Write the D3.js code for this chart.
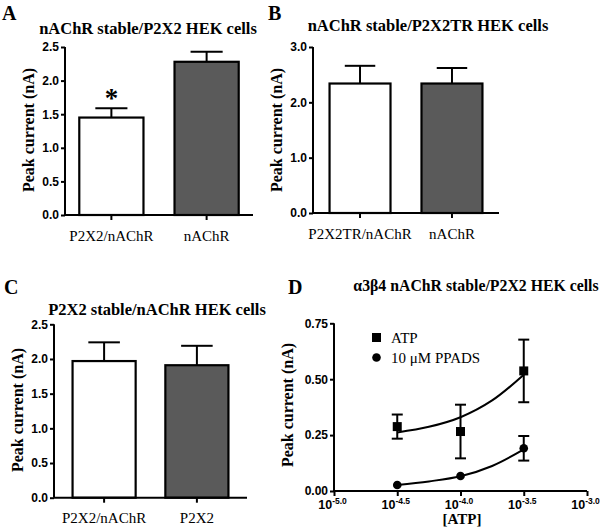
<!DOCTYPE html>
<html><head><meta charset="utf-8">
<script src="https://cdn.jsdelivr.net/npm/d3@7"></script>
<style>body{margin:0;background:#fff}svg{display:block}</style>
</head><body>
<svg id="c" width="600" height="530"></svg>
<script>
// ---- data ----
const catsA = ["P2X2/nAChR", "nAChR"];
const meanA = [1.45, 2.28];
const semA  = [0.14, 0.15];
const ticksA = [0, 0.5, 1.0, 1.5, 2.0, 2.5];

const catsB = ["P2X2TR/nAChR", "nAChR"];
const meanB = [2.34, 2.34];
const semB  = [0.32, 0.28];
const ticksB = [0, 1.0, 2.0, 3.0];

const catsC = ["P2X2/nAChR", "P2X2"];
const meanC = [1.97, 1.91];
const semC  = [0.27, 0.28];
const ticksC = [0, 0.5, 1.0, 1.5, 2.0, 2.5];

const logATP = [-4.5, -4.0, -3.5];
const atpMean = [0.288, 0.266, 0.537];
const atpSem  = [0.054, 0.12, 0.14];
const ppadsMean = [0.027, 0.067, 0.191];
const ppadsSem  = [0, 0, 0.055];
const fitX = [-4.5, -4.25, -4.0, -3.75, -3.5];
const atpFit = [0.262, 0.287, 0.330, 0.405, 0.520];
const ppadsFit = [0.027, 0.043, 0.066, 0.112, 0.186];
const ticksDx = [-5.0, -4.5, -4.0, -3.5, -3.0];
const ticksDy = [0, 0.25, 0.50, 0.75];

const svg = d3.select("#c");
const SERIF = "'Liberation Serif','Times New Roman',serif";
const SANS = "'Liberation Sans',Arial,sans-serif";
const fills = ["#ffffff", "#5a5a5a"];

function letter(t, x, y) {
  svg.append("text").attr("x", x).attr("y", y).text(t)
    .attr("font-family", SERIF).attr("font-weight", "bold").attr("font-size", 20);
}
function title(t, x, y, fs) {
  svg.append("text").attr("x", x).attr("y", y).text(t).attr("text-anchor", "middle")
    .attr("font-family", SERIF).attr("font-weight", "bold").attr("font-size", fs || 16.5);
}
function ylabel(x, y) {
  svg.append("text").attr("transform", `translate(${x},${y}) rotate(-90)`)
    .attr("text-anchor", "middle").text("Peak current (nA)")
    .attr("font-family", SERIF).attr("font-weight", "bold").attr("font-size", 16);
}
function yAxis(g, y, ticks, fmt) {
  const ax = g.append("g").call(d3.axisLeft(y).tickValues(ticks).tickFormat(d3.format(fmt)).tickSize(4).tickPadding(2));
  ax.select(".domain").attr("stroke-width", 2).attr("d", `M0,${y(d3.max(ticks))}V${y(0)}`);
  ax.selectAll(".tick line").attr("stroke-width", 2);
  ax.selectAll(".tick text").attr("font-family", SANS).attr("font-weight", "bold").attr("font-size", 12).attr("fill", "#000");
  return ax;
}

function barPanel(o) {
  const g = svg.append("g");
  const x = d3.scaleBand().domain(o.cats).range([o.x0, o.x1]).paddingInner(o.pi).paddingOuter(o.po);
  const y = d3.scaleLinear().domain([0, d3.max(o.ticks)]).range([o.y0, o.y1]);
  // error bars (upper only)
  o.cats.forEach((c, i) => {
    const cx = x(c) + x.bandwidth() / 2;
    const cw = x.bandwidth() / 4;
    g.append("line").attr("x1", cx).attr("x2", cx).attr("y1", y(o.mean[i])).attr("y2", y(o.mean[i] + o.sem[i])).attr("stroke", "#000").attr("stroke-width", 2);
    g.append("line").attr("x1", cx - cw).attr("x2", cx + cw).attr("y1", y(o.mean[i] + o.sem[i])).attr("y2", y(o.mean[i] + o.sem[i])).attr("stroke", "#000").attr("stroke-width", 2);
  });
  g.selectAll("rect.bar").data(o.cats).join("rect")
    .attr("x", c => x(c)).attr("width", x.bandwidth())
    .attr("y", (c, i) => y(o.mean[i])).attr("height", (c, i) => y(0) - y(o.mean[i]))
    .attr("fill", (c, i) => fills[i]).attr("stroke", "#000").attr("stroke-width", 2.2);
  // x axis
  const xa = g.append("g").attr("transform", `translate(0,${o.y0})`)
    .call(d3.axisBottom(x).tickSize(5).tickPadding(8));
  xa.select(".domain").attr("stroke-width", 2).attr("d", `M${o.x0},0H${o.x1}`);
  xa.selectAll(".tick line").attr("stroke-width", 2);
  xa.selectAll(".tick text").attr("font-family", SERIF).attr("font-size", 15).attr("fill", "#000").attr("dy", "0.85em");
  g.append("g").attr("transform", `translate(${o.x0},0)`).call(gg => yAxis(gg, y, o.ticks, o.fmt));
  return {x, y, g};
}

// Panel A
letter("A", 2, 20);
title("nAChR stable/P2X2 HEK cells", 148, 34);
ylabel(34, 130);
const pA = barPanel({cats: catsA, mean: meanA, sem: semA, ticks: ticksA, fmt: ".1f",
  x0: 65, x1: 253, y0: 215, y1: 47, pi: 0.326, po: 0.15});
svg.append("text").attr("x", pA.x(catsA[0]) + pA.x.bandwidth() / 2).attr("y", pA.y(meanA[0] + semA[0]) - 1)
  .attr("text-anchor", "middle").text("*").attr("font-family", SERIF).attr("font-weight", "bold").attr("font-size", 27);

// Panel B
letter("B", 268, 20);
title("nAChR stable/P2X2TR HEK cells", 428, 31);
ylabel(282, 130);
barPanel({cats: catsB, mean: meanB, sem: semB, ticks: ticksB, fmt: ".1f",
  x0: 313, x1: 499, y0: 213, y1: 47, pi: 0.337, po: 0.18});

// Panel C
letter("C", 4, 294);
title("P2X2 stable/nAChR HEK cells", 157, 315);
ylabel(23, 410);
barPanel({cats: catsC, mean: meanC, sem: semC, ticks: ticksC, fmt: ".1f",
  x0: 54, x1: 247, y0: 497.7, y1: 324.3, pi: 0.32, po: 0.2});

// Panel D
letter("D", 288, 294);
title("\u03b13\u03b24 nAChR stable/P2X2 HEK cells", 476, 291, 15.8);
ylabel(293, 405);
(function () {
  const g = svg.append("g");
  const x = d3.scaleLinear().domain([-5, -3]).range([334, 587]);
  const y = d3.scaleLinear().domain([0, 0.75]).range([491, 323.3]);
  const line = d3.line().x((d, i) => x(fitX[i])).y(d => y(d)).curve(d3.curveCatmullRom);
  g.append("path").attr("d", line(atpFit)).attr("fill", "none").attr("stroke", "#000").attr("stroke-width", 2);
  g.append("path").attr("d", line(ppadsFit)).attr("fill", "none").attr("stroke", "#000").attr("stroke-width", 2);
  function errs(mean, sem) {
    logATP.forEach((lx, i) => {
      if (!sem[i]) return;
      const cx = x(lx);
      g.append("line").attr("x1", cx).attr("x2", cx).attr("y1", y(mean[i] - sem[i])).attr("y2", y(mean[i] + sem[i])).attr("stroke", "#000").attr("stroke-width", 2);
      [mean[i] - sem[i], mean[i] + sem[i]].forEach(v => {
        g.append("line").attr("x1", cx - 5.5).attr("x2", cx + 5.5).attr("y1", y(v)).attr("y2", y(v)).attr("stroke", "#000").attr("stroke-width", 2);
      });
    });
  }
  errs(atpMean, atpSem);
  errs(ppadsMean, ppadsSem);
  g.selectAll("rect.sq").data(atpMean).join("rect")
    .attr("x", (d, i) => x(logATP[i]) - 4.5).attr("y", d => y(d) - 4.5).attr("width", 9).attr("height", 9).attr("fill", "#000");
  g.selectAll("circle.ci").data(ppadsMean).join("circle")
    .attr("cx", (d, i) => x(logATP[i])).attr("cy", d => y(d)).attr("r", 4.3).attr("fill", "#000");
  // legend
  g.append("rect").attr("x", 372).attr("y", 333).attr("width", 9).attr("height", 9).attr("fill", "#000");
  g.append("circle").attr("cx", 376.5).attr("cy", 357.5).attr("r", 4.3).attr("fill", "#000");
  g.append("text").attr("x", 391).attr("y", 343).text("ATP").attr("font-family", SERIF).attr("font-size", 15);
  g.append("text").attr("x", 391).attr("y", 363).text("10 \u03bcM PPADS").attr("font-family", SERIF).attr("font-size", 15);
  // axes
  const xa = g.append("g").attr("transform", `translate(0,491)`)
    .call(d3.axisBottom(x).tickValues(ticksDx).tickSize(5).tickFormat(""));
  xa.select(".domain").attr("stroke-width", 2).attr("d", `M334,0H587`);
  xa.selectAll(".tick line").attr("stroke-width", 2);
  xa.selectAll(".tick").append("text").attr("y", 18).attr("x", -2).attr("text-anchor", "middle").attr("fill", "#000")
    .attr("font-family", SANS).attr("font-weight", "bold").attr("font-size", 12.5)
    .each(function (d) {
      const t = d3.select(this);
      t.append("tspan").text("10");
      t.append("tspan").attr("dy", -5).attr("font-size", 8.5).text(d3.format(".1f")(d).replace("\u2212", "-"));
    });
  g.append("g").attr("transform", `translate(334,0)`).call(gg => yAxis(gg, y, ticksDy, ".2f"));
  g.append("text").attr("x", 462).attr("y", 524).attr("text-anchor", "middle").text("[ATP]")
    .attr("font-family", SERIF).attr("font-weight", "bold").attr("font-size", 15);
})();
</script>
</body></html>
